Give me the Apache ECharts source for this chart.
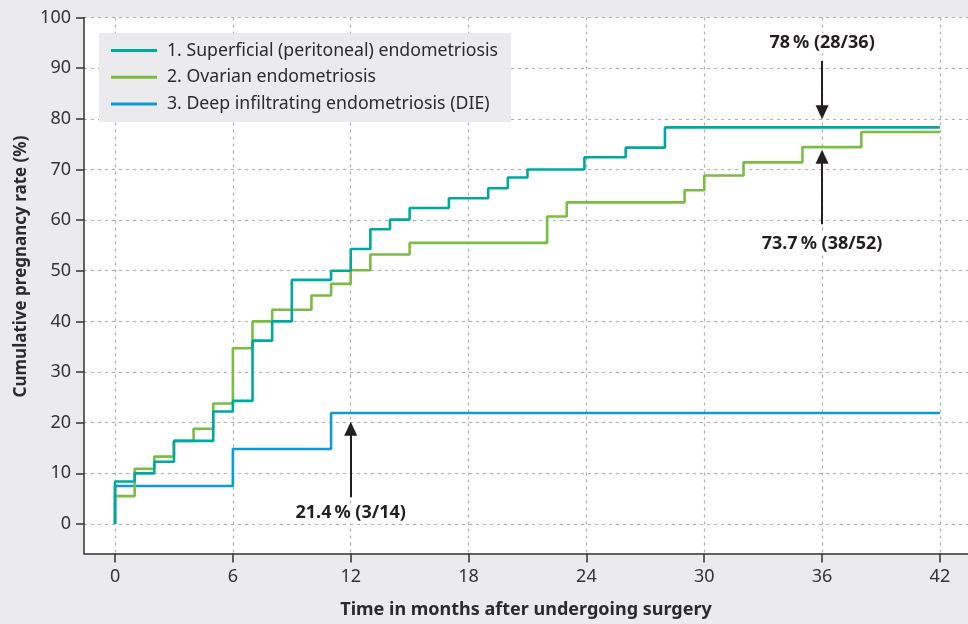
<!DOCTYPE html>
<html>
<head>
<meta charset="utf-8">
<script src="https://cdn.jsdelivr.net/npm/echarts@6/dist/echarts.min.js"></script>
<style>
html,body{margin:0;padding:0;background:#ebebed;}
#chart{width:968px;height:624px;}
</style>
</head>
<body>
<div id="chart"></div>
<script>
// ---- data ----
const seriesNames = [
  '1. Superficial (peritoneal) endometriosis',
  '2. Ovarian endometriosis',
  '3. Deep infiltrating endometriosis (DIE)'
];
// [month, cumulative pregnancy rate %]
const superficial = [[0,0],[0,8.4],[1,10.0],[2,12.3],[3,16.4],[5,22.2],[6,24.3],[7,36.2],[8,40.0],[9,48.2],[11,50.0],[12,54.3],[13,58.2],[14,60.1],[15,62.4],[17,64.3],[19,66.3],[20,68.4],[21,70.0],[23.9,72.4],[26,74.3],[28,78.3],[42,78.3]];
const ovarian = [[0,0],[0,5.5],[1,10.9],[2,13.3],[3,16.4],[4,18.8],[5,23.8],[6,34.7],[7,40.0],[8,42.3],[10,45.1],[11,47.4],[12,50.1],[13,53.2],[15,55.5],[22,60.7],[23,63.5],[29,65.9],[30,68.8],[32,71.4],[35,74.4],[38,77.4],[42,77.4]];
const deep = [[0,0],[0,7.5],[6,14.8],[11,21.9],[42,21.9]];
const xTicks = [0,6,12,18,24,30,36,42];
const yTicks = [0,10,20,30,40,50,60,70,80,90,100];
// annotation texts and their anchor points (data units)
const annoTexts = ['78\u2009% (28/36)', '73.7\u2009% (38/52)', '21.4\u2009% (3/14)'];
const annoLabelPos = [[36,94.9],[36,55.3],[12,2.1]];
const annoArrows = [[[36,91.4],[36,81.3]], [[36,59.2],[36,72.5]], [[12,5.3],[12,18.8]]];

const FONT = '"Noto Sans", "Open Sans", sans-serif';
const colors = ['#00a99d', '#7bbd42', '#0e9ad7'];

const chart = echarts.init(document.getElementById('chart'), null, {renderer:'canvas'});

function lineSeries(name, data, color, extra) {
  return Object.assign({
    name: name,
    type: 'line',
    step: 'end',
    data: data,
    symbol: 'none',
    showSymbol: false,
    lineStyle: {color: color, width: 2.6},
    itemStyle: {color: color},
    emphasis: {disabled: true},
    silent: true
  }, extra || {});
}

const option = {
  animation: false,
  backgroundColor: '#ebebed',
  textStyle: {fontFamily: FONT},
  grid: {left: 84, right: 0, top: 17.5, bottom: 70.5, show: true, backgroundColor: '#ffffff', borderWidth: 0},
  legend: {
    data: seriesNames,
    orient: 'vertical',
    left: 99, top: 33,
    backgroundColor: '#ebebed',
    padding: [7.5, 13, 8, 12],
    itemWidth: 46, itemHeight: 3, itemGap: 6.7,
    icon: 'rect',
    textStyle: {fontFamily: FONT, fontSize: 17.7, lineHeight: 20, color: '#2b2b2b', padding: [0,0,0,5]},
    selectedMode: false
  },
  xAxis: {
    type: 'value',
    min: -1.58, max: 43.43,
    name: 'Time in months after undergoing surgery',
    nameLocation: 'middle',
    nameGap: 47,
    nameTextStyle: {fontFamily: FONT, fontSize: 18, fontWeight: 'bold', color: '#2b2b2b'},
    axisLine: {show: true, onZero: false, lineStyle: {color: '#333', width: 1.5}},
    axisTick: {show: true, length: 9, customValues: xTicks, lineStyle: {color: '#333', width: 1.5}},
    axisLabel: {customValues: xTicks, margin: 14, fontFamily: FONT, fontSize: 18, color: '#333'},
    splitLine: {show: true, lineStyle: {color: '#b0b0b0', type: [3,4], width: 1.2}}
  },
  yAxis: {
    type: 'value',
    min: -5.83, max: 100,
    name: 'Cumulative pregnancy rate (%)',
    nameLocation: 'middle',
    nameGap: 53,
    nameTextStyle: {fontFamily: FONT, fontSize: 17, fontWeight: 'bold', color: '#2b2b2b', padding: [0,0,0,38]},
    axisLine: {show: true, onZero: false, lineStyle: {color: '#333', width: 1.5}},
    axisTick: {show: true, length: 8, customValues: yTicks, lineStyle: {color: '#333', width: 1.5}},
    axisLabel: {customValues: yTicks, margin: 13, fontFamily: FONT, fontSize: 18, color: '#333'},
    splitLine: {show: true, lineStyle: {color: '#b0b0b0', type: [3,4], width: 1.2}}
  },
  series: [
    lineSeries(seriesNames[2], deep, colors[2]),
    lineSeries(seriesNames[1], ovarian, colors[1]),
    lineSeries(seriesNames[0], superficial, colors[0], {
      markLine: {
        silent: true,
        symbol: ['none', 'triangle'],
        symbolSize: [13, 14],
        label: {show: false},
        lineStyle: {color: '#231f20', width: 2, type: 'solid'},
        emphasis: {disabled: true},
        data: annoArrows.map(a => [{coord: a[0]}, {coord: a[1]}])
      },
      markPoint: {
        silent: true,
        symbol: 'rect',
        symbolSize: 1,
        itemStyle: {color: 'rgba(0,0,0,0)'},
        label: {
          show: true, position: 'inside', formatter: '{b}',
          fontFamily: FONT, fontSize: 18, fontWeight: 'bold', color: '#231f20',
          backgroundColor: '#ffffff', padding: [1, 8]
        },
        data: annoTexts.map((t, i) => ({name: t, coord: annoLabelPos[i]}))
      }
    })
  ]
};
chart.setOption(option);
</script>
</body>
</html>
